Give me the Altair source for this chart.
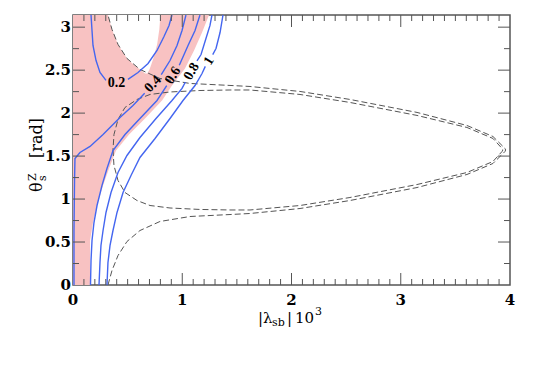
import math
import altair as alt
import pandas as pd

PI = math.pi
W, H = 437, 270
FONT_T = "DejaVu Serif"
FONT_L = "Liberation Serif"
BLUE = "#4466f0"
TICKC = "#555555"

# ---------------- contour lines (|lambda_sb| 10^3 , theta_s^Z) ----------------
c02a_lam = [0.165, 0.174, 0.183, 0.211, 0.247, 0.302]
c02a_th = [PI, 2.961, 2.787, 2.612, 2.473, 2.380]
c02b_lam = [0.503, 0.595, 0.687, 0.769, 0.833, 0.879, 0.906]
c02b_th = [2.392, 2.473, 2.578, 2.729, 2.892, 3.020, PI]

c04a_lam = [0.009, 0.009, 0.014, 0.018, 0.064, 0.156, 0.275, 0.430, 0.549, 0.656]
c04a_th = [0.0, 0.634, 1.216, 1.472, 1.542, 1.612, 1.751, 1.949, 2.089, 2.231]
c04b_lam = [0.808, 0.888, 0.952, 0.998, 1.034]
c04b_th = [2.447, 2.612, 2.787, 2.961, PI]

c06a_lam = [0.160, 0.165, 0.174, 0.192, 0.220, 0.265, 0.311, 0.366, 0.476, 0.613, 0.769, 0.858]
c06a_th = [0.0, 0.285, 0.518, 0.727, 0.925, 1.157, 1.355, 1.565, 1.751, 1.937, 2.147, 2.319]
c06b_lam = [0.973, 1.053, 1.117, 1.162]
c06b_th = [2.556, 2.787, 2.961, PI]

c08a_lam = [0.238, 0.247, 0.256, 0.275, 0.302, 0.348, 0.412, 0.494, 0.613, 0.760, 0.906, 0.998, 1.029]
c08a_th = [0.0, 0.262, 0.460, 0.634, 0.844, 1.076, 1.309, 1.507, 1.716, 1.937, 2.147, 2.287, 2.362]
c08b_lam = [1.135, 1.172, 1.217, 1.254, 1.272]
c08b_th = [2.607, 2.682, 2.868, 3.020, PI]

c10a_lam = [0.311, 0.320, 0.339, 0.366, 0.403, 0.458, 0.531, 0.613, 0.751, 0.888, 1.007, 1.117, 1.181, 1.211]
c10a_th = [0.0, 0.262, 0.460, 0.634, 0.844, 1.076, 1.274, 1.484, 1.705, 1.937, 2.147, 2.321, 2.461, 2.544]
c10b_lam = [1.279, 1.309, 1.346, 1.373]
c10b_th = [2.681, 2.752, 2.938, PI]

# contour labels
lab_txt = ["0.2", "0.4", "0.6", "0.8", "1"]
lab_lam = [0.398, 0.732, 0.915, 1.085, 1.245]
lab_th = [2.345, 2.339, 2.438, 2.484, 2.607]
lab_ang = [0, 314, 302, 299, 302]

# ---------------- shaded (dotted red) region ----------------
red_th = [0.0, 0.518, 0.727, 0.925, 1.157, 1.355, 1.565, 1.751, 1.937, 2.147, 2.321, 2.519, 2.729, 2.938, PI]
red_lam = [0.156, 0.156, 0.183, 0.220, 0.275, 0.330, 0.394, 0.513, 0.659, 0.815, 0.906, 1.025, 1.108, 1.181, 1.245]

# white hole inside the shaded region
hole_th = [2.46, 2.508, 2.56, 2.636, 2.799, 2.973, PI]
hole_l = [0.66, 0.613, 0.56, 0.494, 0.412, 0.357, 0.320]
hole_r = [0.68, 0.700, 0.715, 0.735, 0.770, 0.790, 0.800]

# ---------------- dashed curves ----------------
# outer open curve: bottom -> tip -> top
dA_lam = [0.320, 0.357, 0.412, 0.494, 0.613, 0.796, 1.071, 1.437, 1.620, 2.078, 2.535, 3.149, 3.606, 3.844, 3.954, 3.960,
          3.954, 3.844, 3.606, 3.149, 2.535, 2.078, 1.620, 1.437, 1.071, 0.796, 0.613, 0.494, 0.412, 0.357, 0.320]
dA_th = [0.0, 0.169, 0.343, 0.506, 0.634, 0.739, 0.797, 0.820, 0.832, 0.890, 0.983, 1.134, 1.286, 1.414, 1.553, 1.571,
         1.589, 1.728, 1.856, 2.008, 2.159, 2.252, 2.310, 2.322, 2.345, 2.403, 2.508, 2.636, 2.799, 2.973, PI]
# inner closed loop
dB_lam = [0.366, 0.375, 0.412, 0.476, 0.586, 0.705, 0.888, 1.162, 1.437, 1.620, 2.078, 2.535, 3.149, 3.606, 3.844, 3.927, 3.935,
          3.927, 3.844, 3.606, 3.149, 2.535, 2.078, 1.620, 1.437, 1.162, 0.888, 0.705, 0.586, 0.476, 0.412, 0.375, 0.366]
dB_th = [1.571, 1.391, 1.216, 1.076, 0.983, 0.925, 0.896, 0.879, 0.873, 0.873, 0.925, 1.018, 1.169, 1.309, 1.437, 1.553, 1.571,
         1.589, 1.705, 1.833, 1.973, 2.124, 2.217, 2.269, 2.269, 2.263, 2.246, 2.217, 2.159, 2.066, 1.926, 1.751, 1.571]

# ---------------- axis ticks / labels ----------------
x_labels = [0, 1, 2, 3, 4]
x_label_txt = ["0", "1", "2", "3", "4"]
y_labels = [0, 0.5, 1, 1.5, 2, 2.5, 3]
y_label_txt = ["0", "0.5", "1", "1.5", "2", "2.5", "3"]
xt_major = [1, 2, 3]
xt_minor = [round(0.1 * i, 1) for i in range(1, 40) if i % 10]
yt_major = [0.5, 1.0, 1.5, 2.0, 2.5, 3.0]
yt_minor = [0.25, 0.75, 1.25, 1.75, 2.25, 2.75]

xs = alt.Scale(domain=[0, 4], nice=False, zero=False)
ys = alt.Scale(domain=[0, PI], nice=False, zero=False)


def seg_rows(pairs, key):
    rows = []
    for si, (lams, ths) in enumerate(pairs):
        for i, (l, t) in enumerate(zip(lams, ths)):
            rows.append({"lam": l, "th": t, "seg": f"{key}_{si}", "o": i})
    return rows


cont_rows = []
cont_rows += seg_rows([(c02a_lam, c02a_th), (c02b_lam, c02b_th)], "c02")
cont_rows += seg_rows([(c04a_lam, c04a_th), (c04b_lam, c04b_th)], "c04")
cont_rows += seg_rows([(c06a_lam, c06a_th), (c06b_lam, c06b_th)], "c06")
cont_rows += seg_rows([(c08a_lam, c08a_th), (c08b_lam, c08b_th)], "c08")
cont_rows += seg_rows([(c10a_lam, c10a_th), (c10b_lam, c10b_th)], "c10")
cont_df = pd.DataFrame(cont_rows)

dash_df = pd.DataFrame(seg_rows([(dA_lam, dA_th), (dB_lam, dB_th)], "d"))

red_layer = alt.Chart(pd.DataFrame({"lam": red_lam, "th": red_th})).mark_area(
    orient="horizontal", color="#f8c2c2", clip=True
).encode(
    x=alt.X("lam:Q", scale=xs, stack=None, axis=None),
    y=alt.Y("th:Q", scale=ys, axis=None),
)

hole_layer = alt.Chart(pd.DataFrame({"th": hole_th, "l": hole_l, "r": hole_r})).mark_area(
    orient="horizontal", color="white", clip=True
).encode(
    x=alt.X("l:Q", scale=xs, axis=None, stack=None),
    x2="r:Q",
    y=alt.Y("th:Q", scale=ys, axis=None),
)

dash_layer = alt.Chart(dash_df).mark_line(
    color="#555555", strokeWidth=1, strokeDash=[6, 3], clip=True
).encode(
    x=alt.X("lam:Q", scale=xs, axis=None),
    y=alt.Y("th:Q", scale=ys, axis=None),
    detail="seg:N",
    order="o:Q",
)

cont_layer = alt.Chart(cont_df).mark_line(color=BLUE, strokeWidth=1.4, clip=True).encode(
    x=alt.X("lam:Q", scale=xs, axis=None),
    y=alt.Y("th:Q", scale=ys, axis=None),
    detail="seg:N",
    order="o:Q",
)

lab_layer = alt.Chart(pd.DataFrame({"lam": lab_lam, "th": lab_th, "t": lab_txt, "a": lab_ang})).mark_text(
    font=FONT_L, fontWeight="bold", fontSize=14, color="black", align="center", baseline="middle"
).encode(
    x=alt.X("lam:Q", scale=xs, axis=None),
    y=alt.Y("th:Q", scale=ys, axis=None),
    text="t:N",
    angle=alt.Angle("a:Q", scale=None),
)

xlab_layer = alt.Chart(pd.DataFrame({"v": x_labels, "t": x_label_txt})).mark_text(
    font=FONT_T, fontWeight="bold", fontSize=15, color="black", align="center", baseline="top"
).encode(x=alt.X("v:Q", scale=xs, axis=None), y=alt.value(H + 8), text="t:N")

ylab_layer = alt.Chart(pd.DataFrame({"v": y_labels, "t": y_label_txt})).mark_text(
    font=FONT_T, fontWeight="bold", fontSize=15, color="black", align="right", baseline="middle"
).encode(y=alt.Y("v:Q", scale=ys, axis=None), x=alt.value(-2), text="t:N")


def xticks(vals, L, top):
    y0, y1 = (0, L) if top else (H, H - L)
    return alt.Chart(pd.DataFrame({"v": vals})).mark_rule(color=TICKC, strokeWidth=1).encode(
        x=alt.X("v:Q", scale=xs, axis=None), y=alt.value(y0), y2=alt.value(y1))


def yticks(vals, L, right):
    x0, x1 = (W, W - L) if right else (0, L)
    return alt.Chart(pd.DataFrame({"v": vals})).mark_rule(color=TICKC, strokeWidth=1).encode(
        y=alt.Y("v:Q", scale=ys, axis=None), x=alt.value(x0), x2=alt.value(x1))


tick_layers = [
    xticks(xt_major, 12, False), xticks(xt_minor, 6, False),
    xticks(xt_major, 12, True), xticks(xt_minor, 6, True),
    yticks(yt_major, 12, False), yticks(yt_minor, 6, False),
    yticks(yt_major, 12, True), yticks(yt_minor, 6, True),
]

one = pd.DataFrame({"a": [0]})


def piece(txt, x, y, size, angle=0):
    return alt.Chart(one).mark_text(
        font=FONT_T, fontSize=size, color="black", align="left", baseline="alphabetic", angle=angle
    ).encode(x=alt.value(x), y=alt.value(y), text=alt.value(txt))


title_layers = [
    # x title: |lambda_sb| 10^3
    piece("|λ", 185, 308, 15),
    piece("sb", 199, 311, 11),
    piece("|", 214, 308, 15),
    piece("10", 222, 308, 15),
    piece("3", 242, 300, 11),
    # y title: theta_s^Z [rad]
    piece("θ", -31, 177, 16, 270),
    piece("s", -27, 166, 11, 270),
    piece("Z", -37, 166, 11, 270),
    piece("[rad]", -31, 143, 16, 270),
]

chart = alt.layer(
    red_layer, hole_layer, dash_layer, cont_layer, lab_layer, xlab_layer, ylab_layer,
    *tick_layers, *title_layers
).properties(
    width=W, height=H,
    autosize=alt.AutoSizeParams(type="none"),
    padding={"left": 65, "top": 7, "right": 30, "bottom": 60},
).configure_view(stroke="#555555", strokeWidth=1.5)

chart.save("out.html", embed_options={"renderer": "svg", "actions": False})
